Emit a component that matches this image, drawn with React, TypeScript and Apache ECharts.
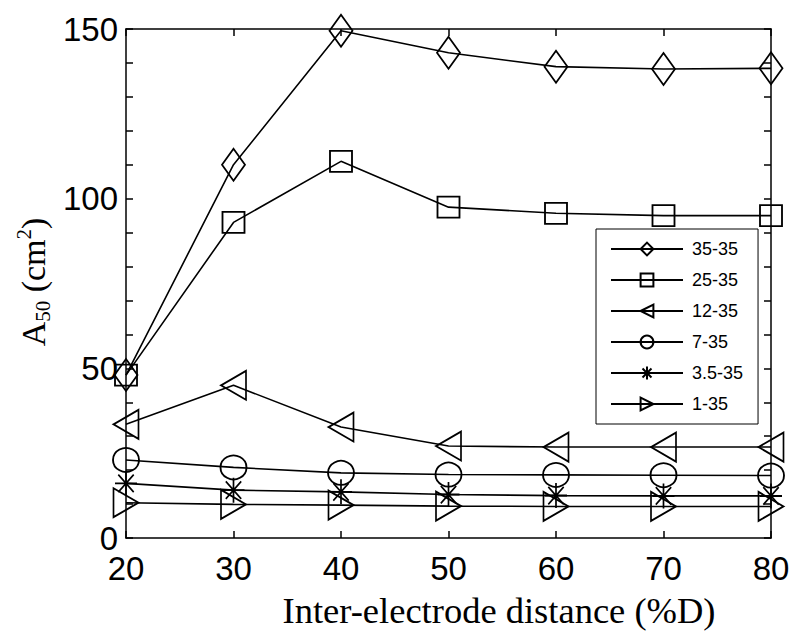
import React, { useEffect, useRef } from "react";
import * as echarts from "echarts";

const xValues = [20, 30, 40, 50, 60, 70, 80];
const seriesNames = ["35-35", "25-35", "12-35", "7-35", "3.5-35", "1-35"];
const s35_35 = [48, 110, 149.5, 143, 138.9, 138.2, 138.4];
const s25_35 = [48, 93, 111, 97.5, 95.7, 95, 95];
const s12_35 = [33.5, 45, 32.7, 27.1, 26.8, 26.8, 26.8];
const s7_35 = [23, 20.8, 19.2, 18.7, 18.6, 18.5, 18.4];
const s3_5_35 = [16.1, 14.1, 13.6, 12.8, 12.5, 12.4, 12.4];
const s1_35 = [10.4, 9.9, 9.7, 9.4, 9.3, 9.3, 9.3];
const xTicks = [20, 30, 40, 50, 60, 70, 80];
const yLabels = [0, 50, 100, 150];

const STAR = "path://M10,0L10,20M0,10L20,10M3,3L17,17M3,17L17,3";

export default function App() {
  const ref = useRef<HTMLDivElement>(null);
  useEffect(() => {
    if (!ref.current) return;
    const chart = echarts.init(ref.current, null, { renderer: "svg" });
    const allData = [s35_35, s25_35, s12_35, s7_35, s3_5_35, s1_35];
    const symbols: any[] = ["diamond", "rect", "triangle", "circle", STAR, "triangle"];
    const sizes: any[] = [[23, 32], [22, 21], [29, 25], [26, 24], [22, 25], [29, 25]];
    const rotates = [0, 0, 90, 0, 0, -90];
    const series = allData.map((d, i) => ({
      type: "line",
      name: seriesNames[i],
      data: d.map((v, j) => [xValues[j], v]),
      symbol: symbols[i],
      symbolSize: sizes[i],
      symbolRotate: rotates[i],
      showAllSymbol: true,
      lineStyle: { color: "#000", width: 1.6 },
      itemStyle: { color: "none", borderColor: "#000", borderWidth: 1.8 },
      emphasis: { disabled: true },
      silent: true,
      z: 2 + i,
    }));
    const fontSans = "'Liberation Sans', Arial, sans-serif";
    const fontSerif = "'Liberation Serif', 'Times New Roman', serif";
    const baseX = {
      type: "value",
      min: 20,
      max: 80,
      interval: 10,
      splitLine: { show: false },
      axisLine: { show: true, onZero: false, lineStyle: { color: "#000", width: 1.5 } },
      axisTick: { show: true, inside: true, length: 7, lineStyle: { color: "#000", width: 1.5 } },
    };
    const baseY = {
      type: "value",
      min: 0,
      max: 150,
      interval: 10,
      splitLine: { show: false },
      axisLine: { show: true, onZero: false, lineStyle: { color: "#000", width: 1.5 } },
      axisTick: { show: true, inside: true, length: 7, lineStyle: { color: "#000", width: 1.5 } },
    };
    chart.setOption({
      animation: false,
      backgroundColor: "#fff",
      grid: { left: 126, top: 29, right: 29, bottom: 104, containLabel: false },
      xAxis: [
        {
          ...baseX,
          position: "bottom",
          axisLabel: {
            show: true,
            color: "#000",
            fontSize: 33,
            fontFamily: fontSans,
            margin: 14,
            formatter: (v: number) => (xTicks.includes(v) ? String(v) : ""),
          },
        },
        { ...baseX, position: "top", axisLabel: { show: false } },
      ],
      yAxis: [
        {
          ...baseY,
          position: "left",
          axisLabel: {
            show: true,
            color: "#000",
            fontSize: 33,
            fontFamily: fontSans,
            margin: 8,
            formatter: (v: number) => (yLabels.includes(v) ? String(v) : ""),
          },
        },
        { ...baseY, position: "right", axisLabel: { show: false } },
      ],
      legend: {
        orient: "vertical",
        left: 596,
        top: 229,
        padding: [11, 15, 11, 14],
        itemWidth: 72,
        itemHeight: 16,
        itemGap: 13,
        borderColor: "#000",
        borderWidth: 1,
        backgroundColor: "#fff",
        selectedMode: false,
        data: seriesNames,
        textStyle: { color: "#000", fontSize: 18, fontFamily: fontSans, padding: [0, 0, 0, 4], lineHeight: 16 },
      },
      graphic: [
        {
          type: "text",
          x: 499,
          y: 610,
          style: {
            text: "Inter-electrode distance (%D)",
            font: `36.5px ${fontSerif}`,
            fill: "#000",
            textAlign: "center",
            textVerticalAlign: "middle",
          },
        },
        {
          type: "text",
          x: 33,
          y: 282,
          rotation: Math.PI / 2,
          style: {
            text: "{a|A}{s|50}{a| (cm}{p|2}{a|)}",
            textAlign: "center",
            textVerticalAlign: "middle",
            fill: "#000",
            rich: {
              a: { fontSize: 34, fontFamily: fontSerif, fill: "#000", lineHeight: 40 },
              s: { fontSize: 21, fontFamily: fontSerif, fill: "#000", verticalAlign: "bottom", lineHeight: 40, padding: [10, 0, 0, 0] },
              p: { fontSize: 21, fontFamily: fontSerif, fill: "#000", verticalAlign: "top", lineHeight: 40, padding: [0, 0, 10, 0] },
            },
          },
        },
      ],
      series,
    });
    return () => chart.dispose();
  }, []);
  return <div ref={ref} style={{ width: 800, height: 642, position: "fixed", left: 0, top: 0 }} />;
}
